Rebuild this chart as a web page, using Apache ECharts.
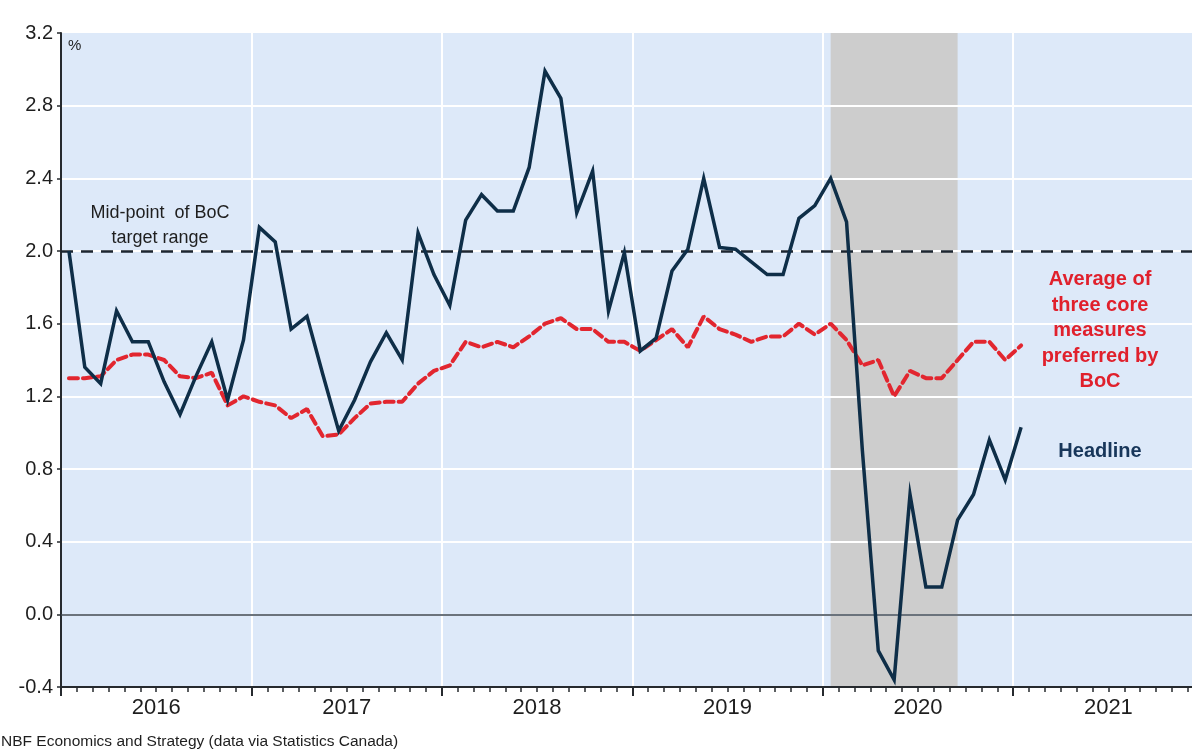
<!DOCTYPE html>
<html><head><meta charset="utf-8">
<script src="https://cdn.jsdelivr.net/npm/echarts@6/dist/echarts.min.js"></script>
<style>html,body{margin:0;padding:0;background:#fff}#c{width:1192px;height:753px}</style>
</head><body><div id="c"></div>
<script>
// Monthly data, Jan 2016 .. Jan 2021 (y/y % change)
const years = ['2016', '2017', '2018', '2019', '2020', '2021'];
const headline = [
  2.00, 1.36, 1.27, 1.67, 1.50, 1.50, 1.28, 1.10, 1.31, 1.50, 1.18, 1.51,
  2.13, 2.05, 1.57, 1.64, 1.32, 1.01, 1.18, 1.39, 1.55, 1.40, 2.10, 1.87,
  1.70, 2.17, 2.31, 2.22, 2.22, 2.46, 2.99, 2.84, 2.21, 2.44, 1.67, 1.99,
  1.45, 1.52, 1.89, 2.01, 2.40, 2.02, 2.01, 1.94, 1.87, 1.87, 2.18, 2.25,
  2.40, 2.16, 0.90, -0.20, -0.36, 0.66, 0.15, 0.15, 0.52, 0.66, 0.96, 0.74,
  1.03
];
const coreAvg = [
  1.30, 1.30, 1.31, 1.40, 1.43, 1.43, 1.40, 1.31, 1.30, 1.33, 1.15, 1.20,
  1.17, 1.15, 1.08, 1.13, 0.98, 0.99, 1.08, 1.16, 1.17, 1.17, 1.27, 1.34,
  1.37, 1.50, 1.47, 1.50, 1.47, 1.53, 1.60, 1.63, 1.57, 1.57, 1.50, 1.50,
  1.45, 1.51, 1.57, 1.47, 1.64, 1.57, 1.54, 1.50, 1.53, 1.53, 1.60, 1.54,
  1.60, 1.51, 1.37, 1.40, 1.20, 1.34, 1.30, 1.30, 1.40, 1.50, 1.50, 1.40,
  1.48
];
const targetMid = 2.0;
const shadedFrom = 48.5, shadedTo = 56.5;   // months since Jan 2016 (x-axis units)
const yMin = -0.4, yMax = 3.2, yStep = 0.4;
const xMin = 0, xMax = 72;                  // Jan 2016 .. Dec 2021, in months

const toPts = arr => arr.map((v, i) => [i + 0.5, v]);
const FONT = 'Liberation Sans, Arial, sans-serif';
const DARK = '#262a2e';

const chart = echarts.init(document.getElementById('c'), null, { renderer: 'canvas' });
chart.setOption({
  animation: false,
  backgroundColor: '#ffffff',
  textStyle: { fontFamily: FONT },
  grid: { left: 61, top: 33, right: -11.6, bottom: 66, containLabel: false, outerBoundsMode: 'none' },
  xAxis: [
    {
      type: 'value', min: xMin, max: xMax, interval: 1, position: 'bottom',
      axisLine: { show: true, onZero: false, lineStyle: { color: DARK, width: 2 } },
      axisTick: { show: true, length: 5, lineStyle: { color: DARK, width: 1.5 } },
      axisLabel: {
        show: true, margin: 10, fontSize: 22, color: '#1e1e1e', fontFamily: FONT,
        formatter: v => (Math.round(v) % 12 === 6 ? years[(Math.round(v) - 6) / 12] : '')
      },
      splitLine: { show: false }
    },
    {
      type: 'value', min: xMin, max: xMax, interval: 12, position: 'bottom',
      axisLine: { show: false, onZero: false },
      axisTick: { show: true, length: 9, lineStyle: { color: DARK, width: 2 } },
      axisLabel: { show: false },
      splitLine: { show: true, lineStyle: { color: '#ffffff', width: 2 } }
    }
  ],
  yAxis: {
    type: 'value', min: yMin, max: yMax, interval: yStep,
    axisLine: { show: true, onZero: false, lineStyle: { color: DARK, width: 2 } },
    axisTick: { show: true, length: 4, lineStyle: { color: DARK, width: 1.5 } },
    axisLabel: { fontSize: 20, margin: 8, color: '#1e1e1e', fontFamily: FONT, formatter: v => v.toFixed(1) },
    splitLine: { show: true, showMaxLine: false, lineStyle: { color: '#ffffff', width: 2 } }
  },
  series: [
    {
      name: 'Headline', type: 'line', xAxisIndex: 0, data: toPts(headline),
      symbol: 'none', z: 3,
      lineStyle: { color: '#0e2e48', width: 3.5, join: 'miter' },
      markArea: {
        silent: true, z: -1,
        label: { show: false },
        data: [
          [{ xAxis: xMin, yAxis: yMin, itemStyle: { color: '#dde9f9' } }, { xAxis: xMax, yAxis: yMax }],
          [{ xAxis: shadedFrom, yAxis: yMin, itemStyle: { color: '#cdcdcd' } }, { xAxis: shadedTo, yAxis: yMax }]
        ]
      }
    },
    {
      name: 'Average of three core measures', type: 'line', xAxisIndex: 0, data: toPts(coreAvg),
      symbol: 'none', z: 2,
      lineStyle: { color: '#e2262f', width: 4, type: [9, 5], cap: 'round' },
      markLine: {
        silent: true, symbol: 'none', z: 1,
        label: { show: false },
        data: [
          { yAxis: 0, lineStyle: { color: '#3a4550', width: 1.5, type: 'solid' } },
          { yAxis: targetMid, lineStyle: { color: '#1d2630', width: 2.5, type: [12, 8] } }
        ]
      }
    }
  ],
  graphic: [
    { type: 'text', x: 68, y: 38, style: { text: '%', font: '15px ' + FONT, fill: '#1e1e1e' } },
    { type: 'text', x: 160, y: 201, style: { text: 'Mid-point  of BoC\ntarget range', font: '18px ' + FONT, fill: '#1e1e1e', textAlign: 'center', lineHeight: 25 } },
    { type: 'text', x: 1100, y: 267, style: { text: 'Average of\nthree core\nmeasures\npreferred by\nBoC', font: 'bold 20px ' + FONT, fill: '#e0202c', textAlign: 'center', lineHeight: 25.5 } },
    { type: 'text', x: 1100, y: 441, style: { text: 'Headline', font: 'bold 20px ' + FONT, fill: '#17365a', textAlign: 'center' } },
    { type: 'text', x: 1, y: 734, style: { text: 'NBF Economics and Strategy (data via Statistics Canada)', font: '15.5px ' + FONT, fill: '#1e1e1e' } }
  ]
});
</script>
</body></html>
